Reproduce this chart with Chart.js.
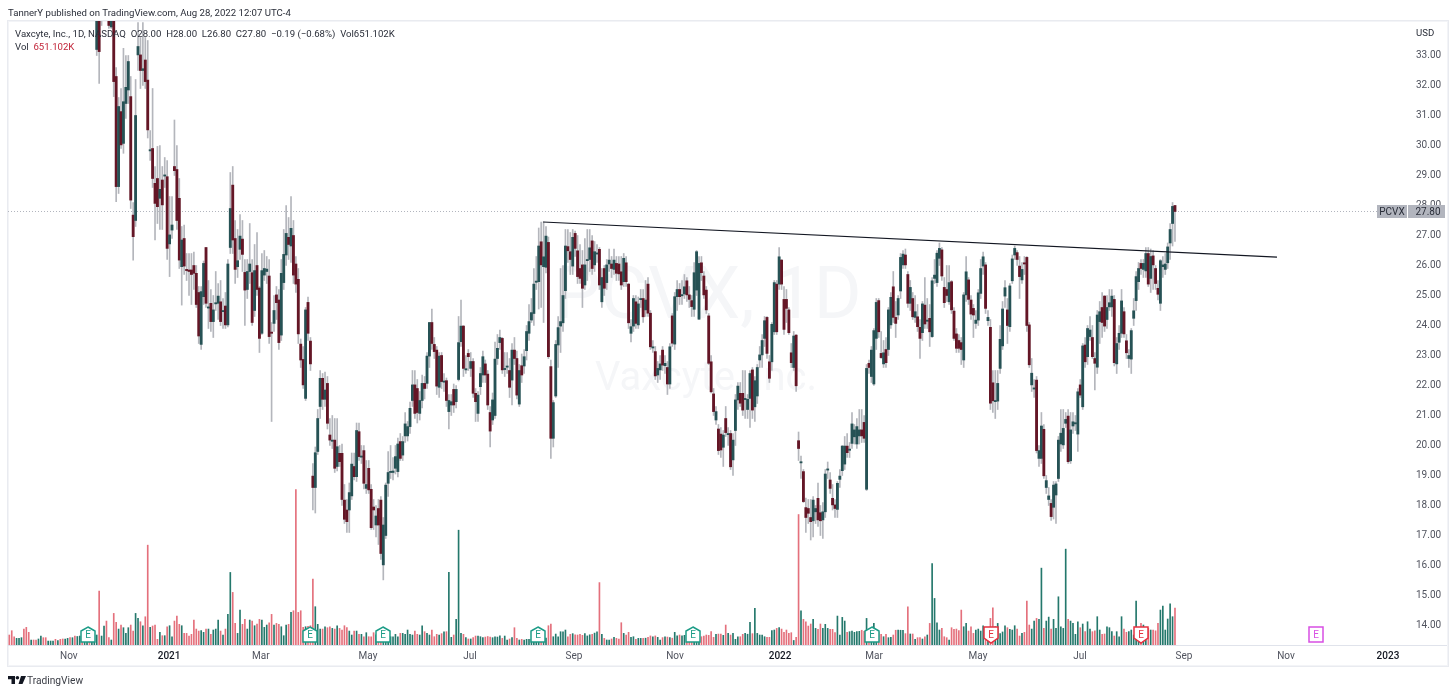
<!DOCTYPE html>
<html><head><meta charset="utf-8">
<style>
html,body{margin:0;padding:0;background:#fff;width:1456px;height:695px;overflow:hidden;font-family:Roboto,sans-serif;color:#2a2e39}
#frame{position:absolute;left:7px;top:20px;width:1440px;height:645px;border:1px solid #e9ebf0;box-shadow:inset 0 0 0 1px #f3f4f7}
#rule{position:absolute;left:8px;top:645px;width:1439px;height:1px;background:#e0e3eb}
#wrap{position:absolute;left:0;top:0;width:1456px;height:695px}
.t{position:absolute;white-space:pre;font-size:9.6px;line-height:12px}
#logo{position:absolute;left:8px;top:676px}
</style></head><body>
<div id="frame"></div><div id="rule"></div>
<div id="wrap"><canvas id="c" width="1456" height="695"></canvas></div>
<div class="t" style="left:8px;top:7px">TannerY published on TradingView.com, Aug 28, 2022 12:07 UTC-4</div>
<div class="t" style="left:15px;top:28px">Vaxcyte, Inc., 1D, NASDAQ  O28.00  H28.00  L26.80  C27.80  −0.19 (−0.68%)  Vol651.102K</div>
<div class="t" style="left:15px;top:41px">Vol  <span style="color:#c2263a">651.102K</span></div>
<div class="t" style="left:1416px;top:27px">USD</div>
<svg id="logo" width="18" height="9" viewBox="0 0 18 9"><path d="M0 0H7V8H3.5V3.2H0Z M13 0H18L14.5 8H10.5Z" fill="#131722"/><circle cx="9.4" cy="1.8" r="1.8" fill="#131722"/></svg>
<div class="t" style="left:27px;top:674px;font-size:10.2px;line-height:13px;color:#3a3d45">TradingView</div>
<script src="https://cdn.jsdelivr.net/npm/chart.js@4"></script>
<script>
const opens=[
37,37,37,36,36,36,37,37,37,36,
37,37,36,36,37,37,36,36,36,37,
36,37,37,36,36,37,36,37,36,36,
37,36,36,37,36,36,33.2,35,34.6,35,
35.8,35.2,33.95,34.5,32.3,28.63,31.13,30.07,31.4,31.85,
31.63,27.68,27.5,33.02,33.02,32.5,32.85,32.18,29.82,29.9,
28.74,28.9,28.24,28.85,28.98,28.96,26.72,27.18,29.3,29.2,
28.24,25.96,26.9,25.87,25.85,25.85,26,25.74,25.1,23.37,
24.96,26.6,24.58,24.74,24.13,24.72,24.74,24.79,24.46,24.65,
24.02,26.6,28.68,26.9,25.96,26.54,26.88,25.77,25.2,25.8,
25.76,24.5,26,25.25,23.74,25.68,25.8,25.65,23.78,24.07,
25.02,24.85,23.68,25.43,26.35,26.94,26.65,27,26.05,25.54,
23.38,22.87,21.57,24.77,23.48,18.98,18.6,19.8,21.3,22.24,
21.54,22.07,20.35,20.14,20.18,19.3,19.74,19.74,18.18,17.85,
17.85,18.32,19.3,18.96,20.46,19.61,19.83,18.57,19.24,18.54,
17.95,17.35,17.9,18.18,16.02,17,18.74,19.1,19.1,19.24,
19.13,20.13,19.68,20.32,20.32,20.63,21.5,22.02,21.9,21.07,
21.5,22.07,22.07,22.98,24.1,23.37,23.18,21.94,23,22.11,
22.16,21.13,21.35,21.87,21.46,22.2,23.46,23.98,22.52,23.07,
22.57,22.8,21.74,21.07,21.96,22.35,22.72,22.38,21.1,20.85,
21,22.9,23.43,23.57,22.53,22.61,22.5,22.18,23.18,22.9,
21.38,22.66,22.65,23.16,23.74,24.18,24.4,25.44,25.46,26.79,
25.96,25.94,26.77,22.63,20.24,21.65,23.35,23.98,24.09,25.16,
26.63,26.46,25.98,27.07,26.49,25.9,26.02,25.35,26.16,26.2,
26.82,26.02,26.38,26.54,24.79,25.9,25.43,26.05,26.05,25.87,
26.07,26.05,25.79,25.46,26.09,25.38,23.74,23.98,24.79,24.02,
24.86,24.9,24.52,25.38,24.41,23.25,23.13,22.35,22.52,23.18,
22.66,22.6,22.05,24.32,23.38,24.96,25.2,24.99,25.05,25.49,
25.02,24.83,24.54,25.18,24.21,26.09,25.65,25.18,24.32,22.79,
21.72,20.85,20.55,20.38,19.94,20.9,20.36,20.4,19.52,20.5,
21.52,21.74,21.74,21.53,21.2,21.57,22.52,21.29,21.65,22.85,
23.02,23.57,24.27,22.79,22.79,23.79,25.38,25.38,26.18,24.87,
24.87,24.52,23.09,22.6,23.68,20.16,19.42,19.13,17.93,17.9,
17.6,17.49,17.79,18.24,17.76,17.52,17.79,19.18,18.85,18.24,
18.02,17.87,18.87,19.16,19.38,19.98,19.84,20.07,20.29,20.05,
20.32,20.52,20.77,18.54,22.74,22.3,22.05,23.57,24.83,23.07,
22.72,23.2,23.2,24.02,25.29,24.27,24.35,25.15,26.02,26.35,
25.7,24.74,24.9,24.27,24.29,23.94,23.76,24.68,24.14,24.24,
23.63,25.57,25.43,26.24,26.52,25.27,25.2,24.79,25.46,24.48,
23.72,23.5,23.43,22.85,25.02,25.52,24.85,24.57,24.07,24.18,
25.07,25.98,26.02,24.16,23.94,22.09,21.46,21.48,22.57,23.32,
24.98,24.52,23.96,25.49,26.35,26.43,25.98,25.52,26.09,26.27,
24.02,22.02,21.88,22.18,19.57,19.57,20.54,18.6,18.2,18.07,
17.94,18.35,18.9,20.05,20.02,20.74,20.98,19.49,20.65,20.72,
20.38,22.02,21.29,23.35,22.96,23.63,23.6,22.9,22.61,24.13,
24.6,24.98,24.2,24.62,24.62,24.87,22.72,23.44,23.74,24.46,
23.49,22.9,22.88,24.24,24.83,25.46,26.07,25.87,25.82,26.4,
25.57,26.32,25.9,25.24,24.74,25.96,25.87,26.09,26.75,27.4,
28];
const closes=[
36,36,36,37,37,37,36,36,36,37,
36,36,37,37,36,36,37,37,37,36,
37,36,36,37,37,36,37,36,37,37,
36,37,37,36,37,37,34.9,33.13,35.4,35.8,
35,34,34.4,32.13,28.63,31.3,30.02,31.46,31.94,32.8,
28.18,26.96,31,33.3,32.5,32.56,32.13,30.52,29.86,28.9,
28.07,27.96,28.54,28.02,29.02,26.57,27.02,27.35,29.16,27.5,
26.18,26.85,25.98,25.83,25.8,25.7,25.74,24.7,23.65,25.13,
26.07,24.74,24.62,24.13,24.52,24.76,24.98,24.13,24.5,24.02,
26.05,27.9,26.85,25.87,26.16,26.98,26.37,25.18,25.8,26.05,
24.1,25.83,25.2,23.57,25.83,25.9,25.88,23.63,23.74,24.5,
24.76,23.43,25.74,26.37,27.07,26.7,27.24,25.68,25.38,23.72,
22.85,22.02,24.52,23.74,22.72,18.6,19.76,20.9,22.24,21.54,
21.85,20.74,20.18,20.18,19.24,19.96,19.46,18.2,17.54,17.46,
18.43,19.38,18.96,20.5,19.63,19.65,18.74,18.7,18.52,17.26,
17.85,17.65,17.35,16.4,17.35,18.68,19.1,19.14,19.15,19.63,
20.05,19.57,20.13,20.72,20.63,21.24,22.02,21.07,21.1,21.5,
22.07,21.9,22.98,24.1,23.4,23.13,21.98,22.98,22.13,22.15,
21.5,21.5,21.46,21.35,21.87,23.43,23.98,22.57,22.56,22.96,
22.8,21.74,21.46,21.68,22.4,22.96,22.35,21.35,20.48,21.52,
22.88,23.24,23.6,22.52,22.57,22.65,21.94,23.18,22.9,21.68,
22.5,22.35,22.96,23.8,24.13,24.43,25.38,25.48,26.65,26.02,
26.29,26.98,22.96,20.24,21.43,23.37,23.93,24.13,25,26.65,
26.49,26.2,26.94,26.57,25.63,25.57,25.24,26.02,26.2,26.59,
25.9,26.46,26.42,25.35,25.6,25.24,26.02,26.18,25.9,26.18,
25.74,25.72,25.35,26.24,25.46,24.09,23.96,24.9,24.07,24.72,
24.9,24.29,24.85,24.41,23.29,23.29,22.32,22.57,22.72,22.68,
22.74,22.05,23.29,23.41,24.96,25.2,24.96,25.03,25.29,25.02,
24.87,24.63,25.76,26.46,26.07,25.76,25.02,24.52,22.74,21.79,
21.13,21.13,19.83,19.85,20.35,20.43,20.4,19.29,20.18,21.52,
21.98,21.41,21.18,21.57,21.54,22.4,21.18,22.16,22.6,23.02,
23.5,24.16,23.07,22.24,24.04,25.43,23.79,26.29,25.38,23.87,
24.57,23.76,22.76,23.65,21.99,19.9,19.46,18.13,17.6,17.74,
17.46,18.18,17.9,17.52,17.49,17.79,19.05,19.22,18.57,18.02,
17.9,18.74,18.98,19.98,19.98,19.76,19.88,20.72,20.52,20.63,
20.52,20.32,20.24,22.57,22.6,23.18,23.83,24.77,23.79,22.93,
23.09,22.76,24.52,24.94,24.27,24.07,24.9,26.27,26.38,26.02,
24.74,25.27,24.29,24.46,23.96,23.57,24.72,24.05,24.18,23.79,
25.49,25.68,26.41,26.57,25.65,24.76,25,25.43,24.52,23.57,
23.24,23.24,23.2,25.02,25.79,24.87,24.38,24.35,24.18,25.09,
25.9,26.29,24.57,24.27,21.41,21.49,21.5,22.07,23.54,24.55,
25.26,24,25.32,26.22,26.57,26.2,25.63,25.87,26.05,24,
22.69,22.41,21.92,19.83,19.83,20.65,18.99,18.83,18.32,17.63,
18.68,18.72,20.18,20.41,20.57,20.87,19.46,20.52,20.79,20.76,
21.79,21.68,23.32,22.79,23.9,23.85,22.96,22.74,24.35,24.46,
24.1,23.98,24.6,24.76,24.98,22.76,23.4,23.74,24.82,23.72,
23.09,23,23.83,24.49,25.63,25.9,25.9,26.07,26.4,25.38,
26.3,26.02,25.4,25.04,26.16,26.02,26.05,26.62,27.2,27.97,
27.8];
const highs=[
38,38,38,38,38,38,38,38,38,38,
38,38,38,38,38,38,38,38,38,38,
38,38,38,38,38,38,38,38,38,38,
38,38,38,38,38,38,35.5,35.6,35.8,36,
36,35.5,34.9,34.8,32.6,31.6,31.9,33.24,33,33,
32.3,28.1,32.2,34.1,33.6,34.1,33.6,33.5,30.5,31.9,
29.3,29.97,30,29.3,29.6,29.5,28.3,28.3,30.85,30,
28.9,27.3,27.35,26.4,26.4,26.4,26.45,26,25.3,25.3,
26.15,26.6,25.5,25.2,25,25.8,25.4,25.5,24.9,25.1,
26.2,29.1,29.3,27.5,27.2,27.7,27.5,26.2,26.2,27.4,
26.2,26.7,27.1,25.3,26.4,26.5,26.3,26.2,24.1,25,
25.3,25.2,26.2,27.2,28,27.6,28.3,27.5,26.3,25.9,
23.55,23.3,24.6,24.95,23.6,19.4,19.95,21.2,22.5,22.4,
22.45,22.3,20.9,21,20.9,20.9,20,20.05,18.7,18.2,
18.75,19.75,19.75,20.75,20.75,20,20,19.5,19.5,18.7,
18.2,18,18.2,18.3,17.6,18.75,19.8,20,19.6,20,
20.25,20.4,20.3,21.1,20.8,21.45,22.5,22.5,22.2,21.8,
22.35,22.3,23.1,24.1,24.55,23.6,23.3,23.1,23.1,22.4,
22.25,21.7,21.7,22.05,22,24.3,24.85,24,23,23.2,
23.1,22.9,21.9,21.8,22.6,23.15,22.85,22.5,21.3,21.75,
23.45,23.7,23.85,23.6,23.1,23.1,22.9,23.4,23.6,23.15,
22.7,23.05,23.2,24,24.7,24.9,25.9,26.3,27.25,27.45,
27.45,27.3,26.95,22.85,21.5,23.5,24.3,25.9,26,27.2,
27.2,27.1,27.2,27.15,27,26.7,26.5,26.9,27.2,27.2,
27,26.8,26.7,26.6,25.9,26,26.2,26.55,26.3,26.55,
26.3,26.3,26.3,26.4,26.3,25.4,24.2,25,25,24.95,
25.2,25.2,25.5,25.6,24.5,23.5,23.3,22.8,23,23.3,
23,22.8,23.4,24.4,25.1,25.5,25.4,25.5,25.7,25.6,
25.3,25,26.1,26.5,26.3,26.3,25.8,25.3,24.4,23,
21.9,21.3,20.7,20.6,20.5,21.3,20.6,20.5,20.4,21.7,
22.1,22.1,22.5,22.5,21.7,22.5,22.6,22.3,22.7,23.3,
23.7,24.3,24.3,23,24.1,25.5,25.5,26.6,26.2,25.3,
25.2,24.6,23.4,23.8,23.7,20.45,19.65,19.2,18.25,18.2,
18.2,18.3,18,18.75,18,18.1,19.2,19.45,19.1,18.7,
18.2,18.8,19.2,20,20.3,20.4,20.1,21.1,20.7,20.9,
21.2,21.2,21,22.7,22.85,23.3,23.9,24.9,24.9,23.8,
23.5,23.6,24.6,25.1,25.8,24.8,25,26.4,26.5,26.55,
25.8,25.5,25.1,25,24.7,24.2,24.8,25.6,24.9,24.7,
25.6,26.2,26.5,26.75,26.6,25.6,26,26,25.5,24.6,
23.9,23.7,23.6,25.1,26.3,25.6,25,24.7,24.5,25.2,
26.2,26.45,26.1,24.5,24.2,22.5,22.5,22.5,24,24.8,
25.5,24.9,25.4,26.35,26.65,26.5,26.3,26.1,26.3,26.3,
24.1,22.9,22.2,22.3,20,21.1,20.7,19,18.6,18.2,
18.8,18.8,20.3,21.2,21.2,21.1,21.2,21.1,21.1,21,
21.9,22.2,23.4,23.6,24,24.3,24,23.1,24.5,24.8,
25.1,25,25,25.2,25.2,25,23.6,24,25.2,24.6,
23.7,23.2,23.9,24.9,25.8,26.1,26.2,26.2,26.6,26.6,
26.55,26.5,26,25.5,26.2,26.3,26.4,26.75,27.4,28.1,
28];
const lows=[
35,35,35,35,35,35,35,35,35,35,
35,35,35,35,35,35,35,35,35,35,
35,35,35,35,35,35,35,35,35,35,
35,35,35,35,35,35,33,32.07,34,34.5,
34.2,33.9,33.9,31.63,28.13,28.4,29.9,29.74,30.9,31.4,
27.9,26.18,27.3,32.5,31.9,32,31.9,30.25,29.5,28.6,
26.85,27.4,27.2,27.2,28.6,26.2,25.63,26.9,29,27.2,
25.9,24.68,25.7,25.5,25,24.7,25.2,24.6,23.4,23.2,
24.7,24.6,23.9,23.8,23.6,24.5,24.2,24,23.9,23.9,
23.95,26.4,26.4,25.4,25.6,26.2,25.8,24,24.9,25.4,
24,24.3,25,23.1,23.7,25.5,25.4,23.4,20.8,23.8,
24.2,23.2,23.5,25.2,26,26.2,26.1,25.4,25.1,23.4,
22.6,21.9,21.5,23.5,22.5,17.85,17.75,19.7,20.9,21.2,
21.3,20.55,20,19.9,19.1,19.15,19.3,18,17.4,17.1,
17.1,18.2,18.85,18.8,19.5,19.4,18.55,18.4,18.4,17.2,
17.2,16.95,16.7,16.2,15.52,16.9,18.3,18.9,18.85,19.05,
18.95,19.5,19.5,20.1,20.15,20.4,21.3,20.9,20.75,20.85,
21.25,21.55,21.9,22.6,23.2,22.9,21.7,21.6,21.9,21.8,
21.3,20.55,21,21.1,21.25,22.15,23.3,22.3,22.4,22.5,
22.3,21.6,20.8,20.8,21.7,22.1,22.1,21.2,19.95,20.7,
20.9,22.7,23.2,22.4,22.3,22.4,21.6,21.35,22.7,21.55,
21.3,22.1,22.4,22.85,23.5,24.1,24,25.2,24.55,24.6,
24.1,25.75,22.9,19.57,19.95,21.6,22.6,23.1,23.8,24.9,
26.1,25.7,25.7,26.3,25.4,25.4,24.6,25.2,25.5,25.8,
25.7,25.8,26.1,25.2,24.6,25,25.2,25.8,25.6,25.7,
25.5,25.5,25.2,25.3,25.3,23.9,23.45,23.8,23.9,23.9,
24.6,24.1,24.3,24.3,23.2,23.1,22.2,22.1,22.2,22.5,
22.4,21.7,21.9,23.3,23.2,24.5,24.7,24.7,24.9,24.8,
24.6,24.3,24.3,25,24.2,25.5,24.9,24.4,22.7,21.75,
21,20.7,19.7,19.6,19.3,20.3,20,19.2,19,20,
21.2,21.3,21,20.9,20.9,20.6,20.9,20.8,21.4,22.6,
22.6,23.3,22.9,22.1,22.5,23.7,23.7,25.2,25.2,23.7,
24.1,23.7,22.6,22.5,21.8,19.5,18.9,18.1,17.1,17.4,
16.85,16.95,17.4,17.3,17,16.9,17.6,18.9,18.4,17.85,
17.6,17.6,18.6,19,19.2,19.6,19.6,19.9,20.05,19.9,
20.05,20.1,20.1,18.5,22.4,22.1,22,23.2,23.6,22.9,
22.6,22.6,23,23.9,24.1,23.6,24.2,24.9,25.9,25.9,
24.6,24.5,24.2,24.1,23.8,22.9,23.5,23.9,23.9,23.3,
23.6,25.4,25.3,26,25.5,24.6,24.8,24.7,24.4,23.5,
23.1,23.1,22.7,22.6,24.8,24.7,24.2,23.6,23.9,24,
24.9,25.7,24.4,24,21.2,21.1,20.9,21.2,22.4,23.2,
24.6,23.4,23.8,25.4,26.2,26,24.9,25.4,25.7,23.8,
22.6,21.8,21.6,19.75,19.3,19.4,18.9,18.4,18,17.5,
17.55,17.4,18.8,19.8,19.9,20.6,19.4,19.4,20.4,20.5,
19.8,21.6,21.2,22.6,22.7,23.5,22.9,21.85,22.4,23.4,
23.6,23.8,23.9,24.5,24.3,22.65,22.4,23.2,23.6,23.6,
22.9,22.6,22.4,24,24.5,25.2,25.7,25.6,25.6,25.3,
25.1,25.2,25.2,24.85,24.5,25.6,25.7,25.9,26.2,26.65,
26.8];
const volumes=[
176,252,146,117,117,129,281,311,223,88,
88,88,106,158,129,129,70,70,70,100,
76,100,106,106,117,129,129,158,150,158,
140,150,160,150,140,170,176,950,158,335,
422,129,88,557,399,281,352,305,205,305,
352,246,557,469,410,340,498,1760,311,335,
352,100,223,164,164,322,340,146,422,510,
364,340,205,205,158,188,440,281,246,252,
223,281,281,188,264,281,440,246,176,281,
540,1279,927,381,205,616,364,452,281,440,
422,340,370,452,440,311,352,393,540,352,
381,364,322,164,352,364,575,604,2740,575,
604,311,322,330,340,1162,675,364,281,281,
322,305,322,293,281,340,293,264,340,305,
246,176,246,246,188,188,146,217,146,146,
217,180,170,200,190,180,170,146,146,188,
146,205,205,188,264,188,176,246,188,176,
340,235,205,176,264,146,188,176,200,230,
235,1279,135,176,452,2024,205,188,129,106,
106,129,158,158,146,129,140,150,140,129,
146,140,160,117,158,88,106,129,305,117,
88,100,88,100,100,100,120,120,120,120,
100,120,340,370,146,193,146,234,234,264,
146,188,200,180,176,190,170,200,160,180,
190,210,230,1100,188,117,88,88,106,135,
117,106,393,205,176,223,135,146,100,117,
117,117,120,135,160,146,160,135,88,130,
146,140,130,120,223,160,176,160,170,150,
150,160,170,150,146,146,158,176,170,235,
135,188,193,193,170,352,205,176,205,100,
146,146,188,205,190,399,200,645,205,176,
176,146,135,135,252,264,293,305,281,223,
264,205,217,80,135,2300,604,452,410,334,
370,452,293,276,370,293,364,293,276,276,
217,510,176,487,422,223,235,246,223,235,
241,260,240,469,200,220,381,220,220,188,
146,188,129,135,176,260,265,260,258,200,
675,194,194,100,129,129,106,146,176,381,
1437,821,393,264,293,146,129,88,305,276,
281,252,616,322,381,246,322,205,264,281,
246,340,300,300,469,657,322,381,200,230,
340,305,276,264,340,281,158,205,223,774,
352,281,422,469,452,1355,293,422,492,281,
452,293,850,322,293,1690,452,422,381,188,
410,305,370,235,410,281,235,250,499,264,
188,194,322,305,235,158,235,146,499,281,
223,235,264,176,774,200,381,352,264,293,
264,264,250,381,616,686,264,458,727,499,
651];
const xTickIndex=[24.5,65.8,103.6,147.7,189.7,232.5,274.1,317.4,356.1,398.9,440.9,483.7,525.7,567.7];
const xTickLabels=["Nov","2021","Mar","May","Jul","Sep","Nov","2022","Mar","May","Jul","Sep","Nov","2023"];
const priceTicks=[14,15,16,17,18,19,20,21,22,23,24,25,26,27,28,29,30,31,32,33];
const trendX=[219.8,522];
const trendY=[27.45,26.28];
const lastPrice=27.8;
const earningsIndex=[32.4,124,153.9,217.5,281.7,355.2,404.2,466,537.9];
const earningsKind=["up","up","up","up","up","up","down","down","next"];

const UP='#265255',DOWN='#641626',WICK='#b4b6bc',VUP='#24786c',VDOWN='#e4707c';
const idx=closes.map((_,i)=>i);
const xMin=-0.54,xMax=577.6;
const isYear=c=>c.tick&&/^20/.test(xTickLabels[xTickIndex.indexOf(c.tick.value)]||'');
const overlay={id:'overlay',
 beforeDatasetsDraw(ch){const {ctx}=ch;ctx.save();ctx.fillStyle='#f5f6f8';ctx.textAlign='center';ctx.textBaseline='middle';
  ctx.font='73px Roboto,sans-serif';ctx.fillText('PCVX, 1D',708,300);
  ctx.font='40px Roboto,sans-serif';ctx.fillText('Vaxcyte, Inc.',706,380);ctx.restore();},
 afterDatasetsDraw(ch){const {ctx,scales:{x}}=ch;ctx.save();
  const col={up:'#1c9c87',down:'#e5313f',next:'#d84fe3'};
  earningsIndex.forEach((v,k)=>{const px=Math.round(x.getPixelForValue(v)),kind=earningsKind[k],l=px-7,r=px+7,t=627,b=642,c=col[kind];
   ctx.beginPath();
   if(kind==='up'){ctx.moveTo(px,t);ctx.lineTo(r,t+4);ctx.lineTo(r,b);ctx.lineTo(l,b);ctx.lineTo(l,t+4);}
   else if(kind==='down'){ctx.moveTo(l,t);ctx.lineTo(r,t);ctx.lineTo(r,b-4);ctx.lineTo(px,b+1);ctx.lineTo(l,b-4);}
   else{ctx.rect(l,t,14,15);}
   ctx.closePath();ctx.fillStyle='#fff';ctx.fill();ctx.lineWidth=1.5;ctx.strokeStyle=c;ctx.stroke();
   ctx.fillStyle=c;ctx.font='10px Roboto,sans-serif';ctx.textAlign='center';ctx.textBaseline='middle';ctx.fillText('E',px,635);
  });ctx.restore();},
 afterDraw(ch){const {ctx,scales:{y}}=ch;const py=Math.round(y.getPixelForValue(lastPrice));ctx.save();
  ctx.fillStyle='#b2b5be';ctx.fillRect(1377,py-6,30,13);ctx.fillRect(1408,py-6,37,13);
  ctx.fillStyle='#2a2e39';ctx.font='10px Roboto,sans-serif';ctx.textBaseline='middle';ctx.textAlign='center';
  ctx.fillText('PCVX',1392,py+1);ctx.fillText(lastPrice.toFixed(2),1428,py+1);ctx.restore();}
};
new Chart(document.getElementById('c'),{
 type:'bar',
 plugins:[overlay],
 data:{datasets:[
  {type:'line',label:'Last',data:[{x:xMin,y:lastPrice},{x:xMax,y:lastPrice}],borderColor:'#b2b5be',borderWidth:1,borderDash:[1,2],pointRadius:0,yAxisID:'y',order:5},
  {label:'Volume',data:idx.map(i=>({x:i,y:volumes[i]})),yAxisID:'v',barThickness:1,backgroundColor:idx.map(i=>closes[i]>=opens[i]?VUP:VDOWN),grouped:false,order:4},
  {label:'Wick',data:idx.map(i=>({x:i,y:[lows[i],highs[i]]})),yAxisID:'y',barThickness:1,backgroundColor:WICK,grouped:false,order:3},
  {label:'Body',data:idx.map(i=>({x:i,y:[Math.min(opens[i],closes[i]),Math.max(opens[i],closes[i])]})),yAxisID:'y',barThickness:2.2,minBarLength:1,backgroundColor:idx.map(i=>closes[i]>=opens[i]?UP:DOWN),grouped:false,order:2},
  {type:'line',label:'Trend',data:trendX.map((v,k)=>({x:v,y:trendY[k]})),borderColor:'#131722',borderWidth:1.2,pointRadius:0,yAxisID:'y',order:1}
 ]},
 options:{responsive:false,animation:false,
  layout:{padding:{left:8,right:8,top:21,bottom:30}},
  plugins:{legend:{display:false},tooltip:{enabled:false}},
  scales:{
   x:{type:'linear',offset:false,min:xMin,max:xMax,grid:{display:false,drawTicks:false},border:{display:false},
    afterBuildTicks(a){a.ticks=xTickIndex.map(v=>({value:v}));},
    afterFit(a){a.height=20;},
    ticks:{autoSkip:false,maxRotation:0,padding:5,
     callback:v=>xTickLabels[xTickIndex.indexOf(v)],
     color:c=>isYear(c)?'#131722':'#50535e',
     font:c=>({family:'Roboto,sans-serif',size:10,weight:isYear(c)?'500':'400'})}},
   y:{position:'right',min:13.35,max:34.15,grid:{display:false,drawTicks:false},border:{display:false},
    afterBuildTicks(a){a.ticks=priceTicks.map(v=>({value:v}));},
    afterFit(a){a.width=36;},
    ticks:{padding:4,color:'#50535e',font:{family:'Roboto,sans-serif',size:10},callback:v=>Number(v).toFixed(2)}},
   v:{display:false,min:0,max:11000}
  }
 }
});
</script></body></html>
